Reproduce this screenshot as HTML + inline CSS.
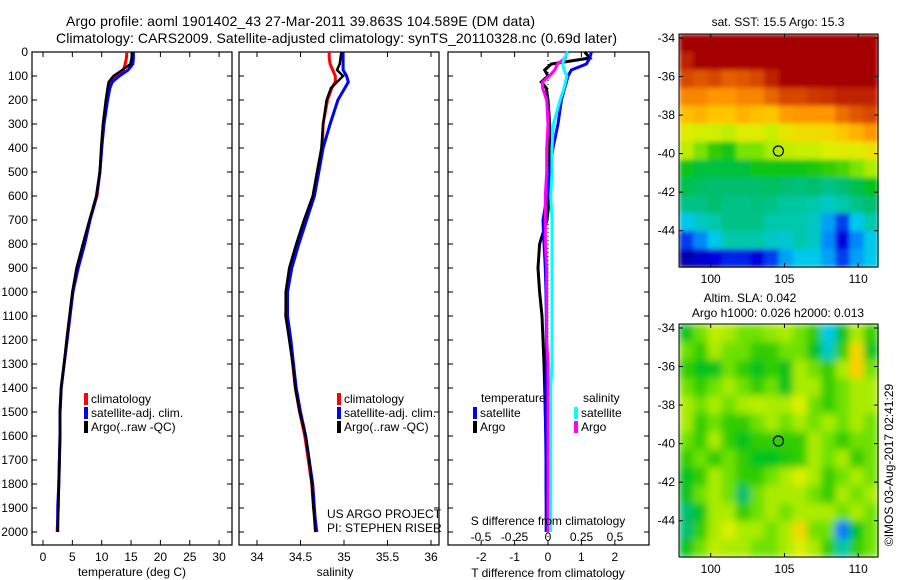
<!DOCTYPE html>
<html><head><meta charset="utf-8">
<style>
body{margin:0;background:#fff;}
svg{display:block;font-family:"Liberation Sans",sans-serif;}
text{fill:#000;}
</style></head>
<body>
<svg id="c" width="900" height="580" xmlns="http://www.w3.org/2000/svg">
<defs>
<filter id="blur1" x="0" y="0" width="1" height="1"><feGaussianBlur stdDeviation="2.5" edgeMode="duplicate"/></filter>
<filter id="blur2" x="0" y="0" width="1" height="1"><feGaussianBlur stdDeviation="4" edgeMode="duplicate"/></filter>
</defs>
</svg>
<script>
// ---- data ----
const depths=[0,25,50,75,100,125,150,200,300,400,500,600,700,800,900,1000,1100,1200,1300,1400,1500,1600,1700,1800,1900,2000];
const tempClim=[14.3,14.2,14.0,13.7,12.3,11.4,11.1,10.8,10.3,10.0,9.7,9.2,8.0,7.0,5.9,5.1,4.6,4.1,3.6,3.1,2.9,2.9,2.8,2.7,2.6,2.4];
const tempSat=[15.4,15.4,15.3,14.5,13.0,11.8,11.4,11.0,10.4,10.0,9.7,9.1,8.0,7.1,6.0,5.1,4.6,4.1,3.6,3.1,2.9,2.9,2.8,2.7,2.5,2.5];
const tempArgo=[15.2,15.1,14.9,13.5,12.0,11.2,11.0,10.7,10.2,9.9,9.7,9.1,7.9,6.8,5.7,5.0,4.5,4.0,3.6,3.1,2.9,2.9,2.8,2.7,2.6,2.5];
const salClim=[34.83,34.83,34.84,34.87,34.90,34.90,34.86,34.81,34.76,34.75,34.70,34.65,34.55,34.46,34.38,34.34,34.33,34.38,34.41,34.44,34.49,34.55,34.59,34.63,34.65,34.69];
const salSat=[34.99,34.99,34.99,34.99,35.03,35.05,35.01,34.93,34.84,34.76,34.71,34.66,34.57,34.48,34.40,34.35,34.35,34.39,34.42,34.45,34.50,34.56,34.60,34.64,34.66,34.68];
const salArgo=[34.97,34.96,34.95,34.92,34.99,34.92,34.85,34.80,34.76,34.74,34.69,34.64,34.54,34.45,34.37,34.33,34.33,34.37,34.41,34.44,34.49,34.56,34.60,34.63,34.65,34.67];
const dTsat=[1.3,1.25,1.15,0.7,0.6,0.55,0.5,0.4,0.3,0.15,0.05,-0.03,-0.15,-0.12,-0.08,-0.06,-0.05,-0.05,-0.05,-0.07,-0.08,-0.07,-0.06,-0.06,-0.05,-0.05];
const dTargo=[1.1,1.25,0.1,-0.1,0.0,-0.2,-0.05,0.0,0.05,0.05,0.05,0.05,-0.03,-0.25,-0.3,-0.25,-0.18,-0.15,-0.12,-0.1,-0.08,-0.06,-0.05,-0.05,-0.05,-0.05];
const dSsat=[0.15,0.12,0.11,0.12,0.14,0.13,0.12,0.09,0.04,0.03,0.03,0.02,0.03,0.03,0.03,0.03,0.03,0.03,0.03,0.02,0.02,0.02,0.02,0.02,0.02,0.02];
const dSargo=[0.14,0.13,0.07,0.05,0.01,-0.04,-0.04,-0.01,0.0,-0.01,-0.01,-0.02,-0.02,-0.02,-0.01,-0.01,-0.01,-0.01,0.0,0.0,0.0,0.0,0.0,0.0,0.0,0.0];
const depthTicks=[0,100,200,300,400,500,600,700,800,900,1000,1100,1200,1300,1400,1500,1600,1700,1800,1900,2000];
const tTicks=[0,5,10,15,20,25,30];
const sTicks=[34,34.5,35,35.5,36];
const dTTicks=[-2,-1,0,1,2];
const dSTicks=[-0.5,-0.25,0,0.25,0.5];
const lonTicks=[100,105,110];
const latTicks=[-34,-36,-38,-40,-42,-44];
const sstGrid=[
[1,1,1,1,1,1,1,1,1,1,1,1,1,1],
[.95,1,1,1,1,1,1,1,1,1,1,1,1,1],
[.9,.88,.9,.87,.88,.9,.95,1,1,1,1,1,1,1],
[.82,.82,.8,.8,.82,.82,.86,.9,.9,.92,.93,.95,.95,.95],
[.74,.76,.73,.73,.76,.74,.73,.79,.8,.8,.8,.85,.88,.9],
[.66,.64,.64,.62,.66,.66,.63,.67,.69,.69,.7,.73,.76,.8],
[.62,.56,.5,.47,.56,.56,.6,.62,.63,.63,.65,.66,.66,.68],
[.46,.43,.43,.43,.43,.46,.46,.46,.46,.48,.5,.52,.56,.6],
[.42,.41,.4,.4,.4,.4,.41,.4,.39,.4,.38,.4,.42,.45],
[.38,.38,.4,.38,.38,.39,.38,.36,.36,.35,.33,.35,.38,.4],
[.3,.33,.35,.38,.38,.38,.35,.35,.35,.33,.25,.15,.3,.35],
[.15,.22,.3,.35,.35,.35,.33,.32,.35,.33,.22,.1,.22,.3],
[.05,.08,.1,.13,.13,.1,.15,.25,.3,.3,.25,.15,.25,.3]];
const slaGrid=[
[.45,.55,.62,.6,.55,.55,.58,.6,.55,.5,.3,.45,.6,.5],
[.55,.5,.6,.55,.55,.5,.5,.55,.55,.45,.33,.5,.7,.45],
[.5,.45,.45,.55,.5,.45,.5,.45,.6,.55,.5,.6,.72,.55],
[.55,.5,.55,.6,.55,.5,.55,.45,.6,.6,.5,.55,.6,.6],
[.6,.55,.6,.55,.6,.62,.6,.6,.65,.55,.5,.55,.6,.6],
[.6,.5,.55,.5,.5,.55,.6,.55,.6,.55,.6,.55,.6,.55],
[.55,.5,.6,.5,.45,.5,.5,.5,.5,.6,.55,.5,.55,.55],
[.5,.55,.5,.55,.5,.45,.45,.48,.5,.6,.55,.6,.5,.55],
[.45,.5,.6,.55,.5,.5,.55,.6,.65,.6,.5,.55,.6,.55],
[.45,.55,.6,.55,.4,.55,.6,.6,.6,.55,.5,.6,.55,.6],
[.4,.45,.6,.6,.5,.55,.6,.55,.6,.6,.6,.55,.6,.55],
[.4,.5,.6,.65,.6,.6,.55,.6,.7,.55,.55,.2,.45,.55],
[.45,.55,.62,.6,.6,.55,.55,.6,.65,.6,.5,.35,.5,.55]];
const floatLon=104.589, floatLat=-39.863;

// ---- helpers ----
const svg=document.getElementById('c');
const NS='http://www.w3.org/2000/svg';
function el(tag,attrs,parent){const e=document.createElementNS(NS,tag);for(const k in attrs)e.setAttribute(k,attrs[k]);(parent||svg).appendChild(e);return e;}
function txt(x,y,s,anchor,size,name){const t=el('text',{x:x,y:y,'font-size':size||12,'text-anchor':anchor||'start'});t.textContent=s;


return t;}
const Y=d=>52+d*0.24;
const xT=v=>43+v*5.87;
const xS=v=>257+(v-34)*87;
const xDT=v=>548+v*33.4;
const xDS=v=>548+v*134;
const BOT=545;

function panel(x0,x1,name,xfun,ticks,fmt,leftLabels){
  const g=el('g',{});
  
  
  const r=el('rect',{x:x0,y:52,width:x1-x0,height:BOT-52,fill:'none',stroke:'#000','stroke-width':1.2},g);
  
  
  depthTicks.forEach(d=>{
    el('line',{x1:x0,x2:x0+5,y1:Y(d),y2:Y(d),stroke:'#000'},g);
    el('line',{x1:x1,x2:x1-5,y1:Y(d),y2:Y(d),stroke:'#000'},g);
    if(leftLabels) txt(x0-4,Y(d)+4,String(d),'end',12,'depth-tick-label');
  });
  ticks.forEach(v=>{const x=xfun(v);
    el('line',{x1:x,x2:x,y1:52,y2:57,stroke:'#000'},g);
    el('line',{x1:x,x2:x,y1:BOT,y2:BOT-5,stroke:'#000'},g);
    if(fmt) txt(x,561,fmt(v),'middle',12,'x-tick-label');
  });
  return g;
}
function line(xfun,vals,color,name,w){
  const pts=depths.map((d,i)=>xfun(vals[i]).toFixed(1)+','+Y(d).toFixed(1)).join(' ');
  const p=el('polyline',{points:pts,fill:'none',stroke:color,'stroke-width':w||3,'stroke-linejoin':'miter'});
  
  
}
function legend(x,y,color,label,name){
  const r=el('rect',{x:x,y:y-10,width:4,height:12,fill:color});
  
  
  txt(x+7,y,label,'start',12,name);
}

// titles
txt(66,26,'Argo profile: aoml 1901402_43 27-Mar-2011 39.863S 104.589E (DM data)','start',14,'title-line-1').setAttribute('textLength','469');
txt(56,43,'Climatology: CARS2009. Satellite-adjusted climatology: synTS_20110328.nc (0.69d later)','start',14,'title-line-2').setAttribute('textLength','561');

// panel 1 temperature
panel(32,232,'temperature-panel',xT,tTicks,v=>String(v),true);
line(xT,tempClim,'#f00','temp-climatology-line');
line(xT,tempSat,'#00f','temp-satellite-line');
line(xT,tempArgo,'#000','temp-argo-line',2.5);
txt(132,576,'temperature (deg C)','middle',12,'x-axis-title-temperature');
legend(84,403,'#f00','climatology','legend-climatology');
legend(84,417,'#00f','satellite-adj. clim.','legend-satellite');
legend(84,431,'#000','Argo(..raw -QC)','legend-argo');

// panel 2 salinity
panel(239,439,'salinity-panel',xS,sTicks,v=>String(v),false);
line(xS,salClim,'#f00','sal-climatology-line');
line(xS,salSat,'#00f','sal-satellite-line');
line(xS,salArgo,'#000','sal-argo-line',2.5);
txt(335,576,'salinity','middle',12,'x-axis-title-salinity');
legend(337,403,'#f00','climatology','legend-climatology-2');
legend(337,417,'#00f','satellite-adj. clim.','legend-satellite-2');
legend(337,431,'#000','Argo(..raw -QC)','legend-argo-2');
txt(327,518,'US ARGO PROJECT','start',12,'project-label');
txt(327,532,'PI: STEPHEN RISER','start',12,'pi-label');

// panel 3 differences
panel(448,649,'difference-panel',xDT,dTTicks,v=>String(v),false);
el('line',{x1:548,x2:548,y1:52,y2:BOT,stroke:'#000','stroke-dasharray':'1,3','stroke-width':1});
line(xDT,dTargo,'#000','dT-argo-line');
line(xDT,dTsat,'#00f','dT-satellite-line');
line(xDS,dSargo,'#f0f','dS-argo-line');
line(xDS,dSsat,'#0ff','dS-satellite-line');
dSTicks.forEach(v=>txt(xDS(v),541,String(v),'middle',12,'s-tick-label'));
txt(548,525,'S difference from climatology','middle',12,'s-axis-title');
txt(548,577,'T difference from climatology','middle',12,'t-axis-title');
txt(481,402,'temperature','start',12,'legend-temperature-header');
txt(583,402,'salinity','start',12,'legend-salinity-header');
legend(473,417,'#00f','satellite','legend-t-satellite');
legend(473,431,'#000','Argo','legend-t-argo');
legend(574,417,'#0ff','satellite','legend-s-satellite');
legend(574,431,'#f0f','Argo','legend-s-argo');

// colormap (value -> colour stops)
const cmapStops=[[0,[0,0,130]],[0.1,[0,0,220]],[0.2,[0,120,255]],[0.3,[0,200,235]],[0.35,[0,200,170]],[0.4,[0,190,110]],[0.45,[0,195,30]],[0.5,[50,205,0]],[0.55,[110,225,0]],[0.6,[170,235,0]],[0.65,[220,240,0]],[0.72,[255,205,0]],[0.8,[255,150,0]],[0.9,[215,70,0]],[1,[165,0,0]]];
function cmap(v){v=Math.max(0,Math.min(1,v));
  for(let i=1;i<cmapStops.length;i++){const [a,ca]=cmapStops[i-1],[b,cb]=cmapStops[i];
    if(v<=b){const t=(v-a)/(b-a);return 'rgb('+ca.map((c,k)=>Math.round(c+(cb[k]-c)*t)).join(',')+')';}}
  return 'rgb(165,0,0)';}
function map(x0,y0,x1,y1,lat34y,lat44y,grid,name,blur){
  const g=el('g',{});
  
  
  const cells=el('g',{filter:'url(#'+blur+')'},g);
  const rows=grid.length, cols=grid[0].length, cw=(x1-x0)/cols, ch=(y1-y0)/rows;
  grid.forEach((row,i)=>row.forEach((v,j)=>{
    const c=el('rect',{x:x0+j*cw,y:y0+i*ch,width:cw+0.6,height:ch+0.6,fill:cmap(v)},cells);
    
    
  }));
  const lonX=l=>710.7+(l-100)*14.75;
  const latY=l=>lat34y+(-34-l)*(lat44y-lat34y)/10;
  el('rect',{x:x0,y:y0,width:x1-x0,height:y1-y0,fill:'none',stroke:'#000'},g);
  lonTicks.forEach(l=>{const x=lonX(l);
    el('line',{x1:x,x2:x,y1:y0,y2:y0+4,stroke:'#000'},g);
    el('line',{x1:x,x2:x,y1:y1,y2:y1-4,stroke:'#000'},g);
    txt(x,y1+16,String(l),'middle',12,'lon-tick-label');});
  latTicks.forEach(l=>{const y=latY(l);
    el('line',{x1:x0,x2:x0+4,y1:y,y2:y,stroke:'#000'},g);
    el('line',{x1:x1,x2:x1-4,y1:y,y2:y,stroke:'#000'},g);
    txt(x0-4,y+4,String(l),'end',12,'lat-tick-label');});
  const m=el('circle',{cx:lonX(floatLon),cy:latY(floatLat),r:5,fill:'none',stroke:'#000','stroke-width':1.2},g);
  
  
}
map(679,34,878,267,38,230.7,sstGrid,'sst-map','blur1');
map(679,324,878,557,328,520.7,slaGrid,'sla-map','blur2');
txt(778,26,'sat. SST: 15.5 Argo: 15.3','middle',12,'sst-map-title');
txt(750,302,'Altim. SLA: 0.042','middle',12,'sla-map-title');
txt(778,317,'Argo h1000: 0.026 h2000: 0.013','middle',12,'sla-map-subtitle');
const ts=txt(0,0,'©IMOS 03-Aug-2017 02:41:29','middle',12,'timestamp');
ts.setAttribute('transform','translate(893,465) rotate(-90)');
</script>
</body></html>
